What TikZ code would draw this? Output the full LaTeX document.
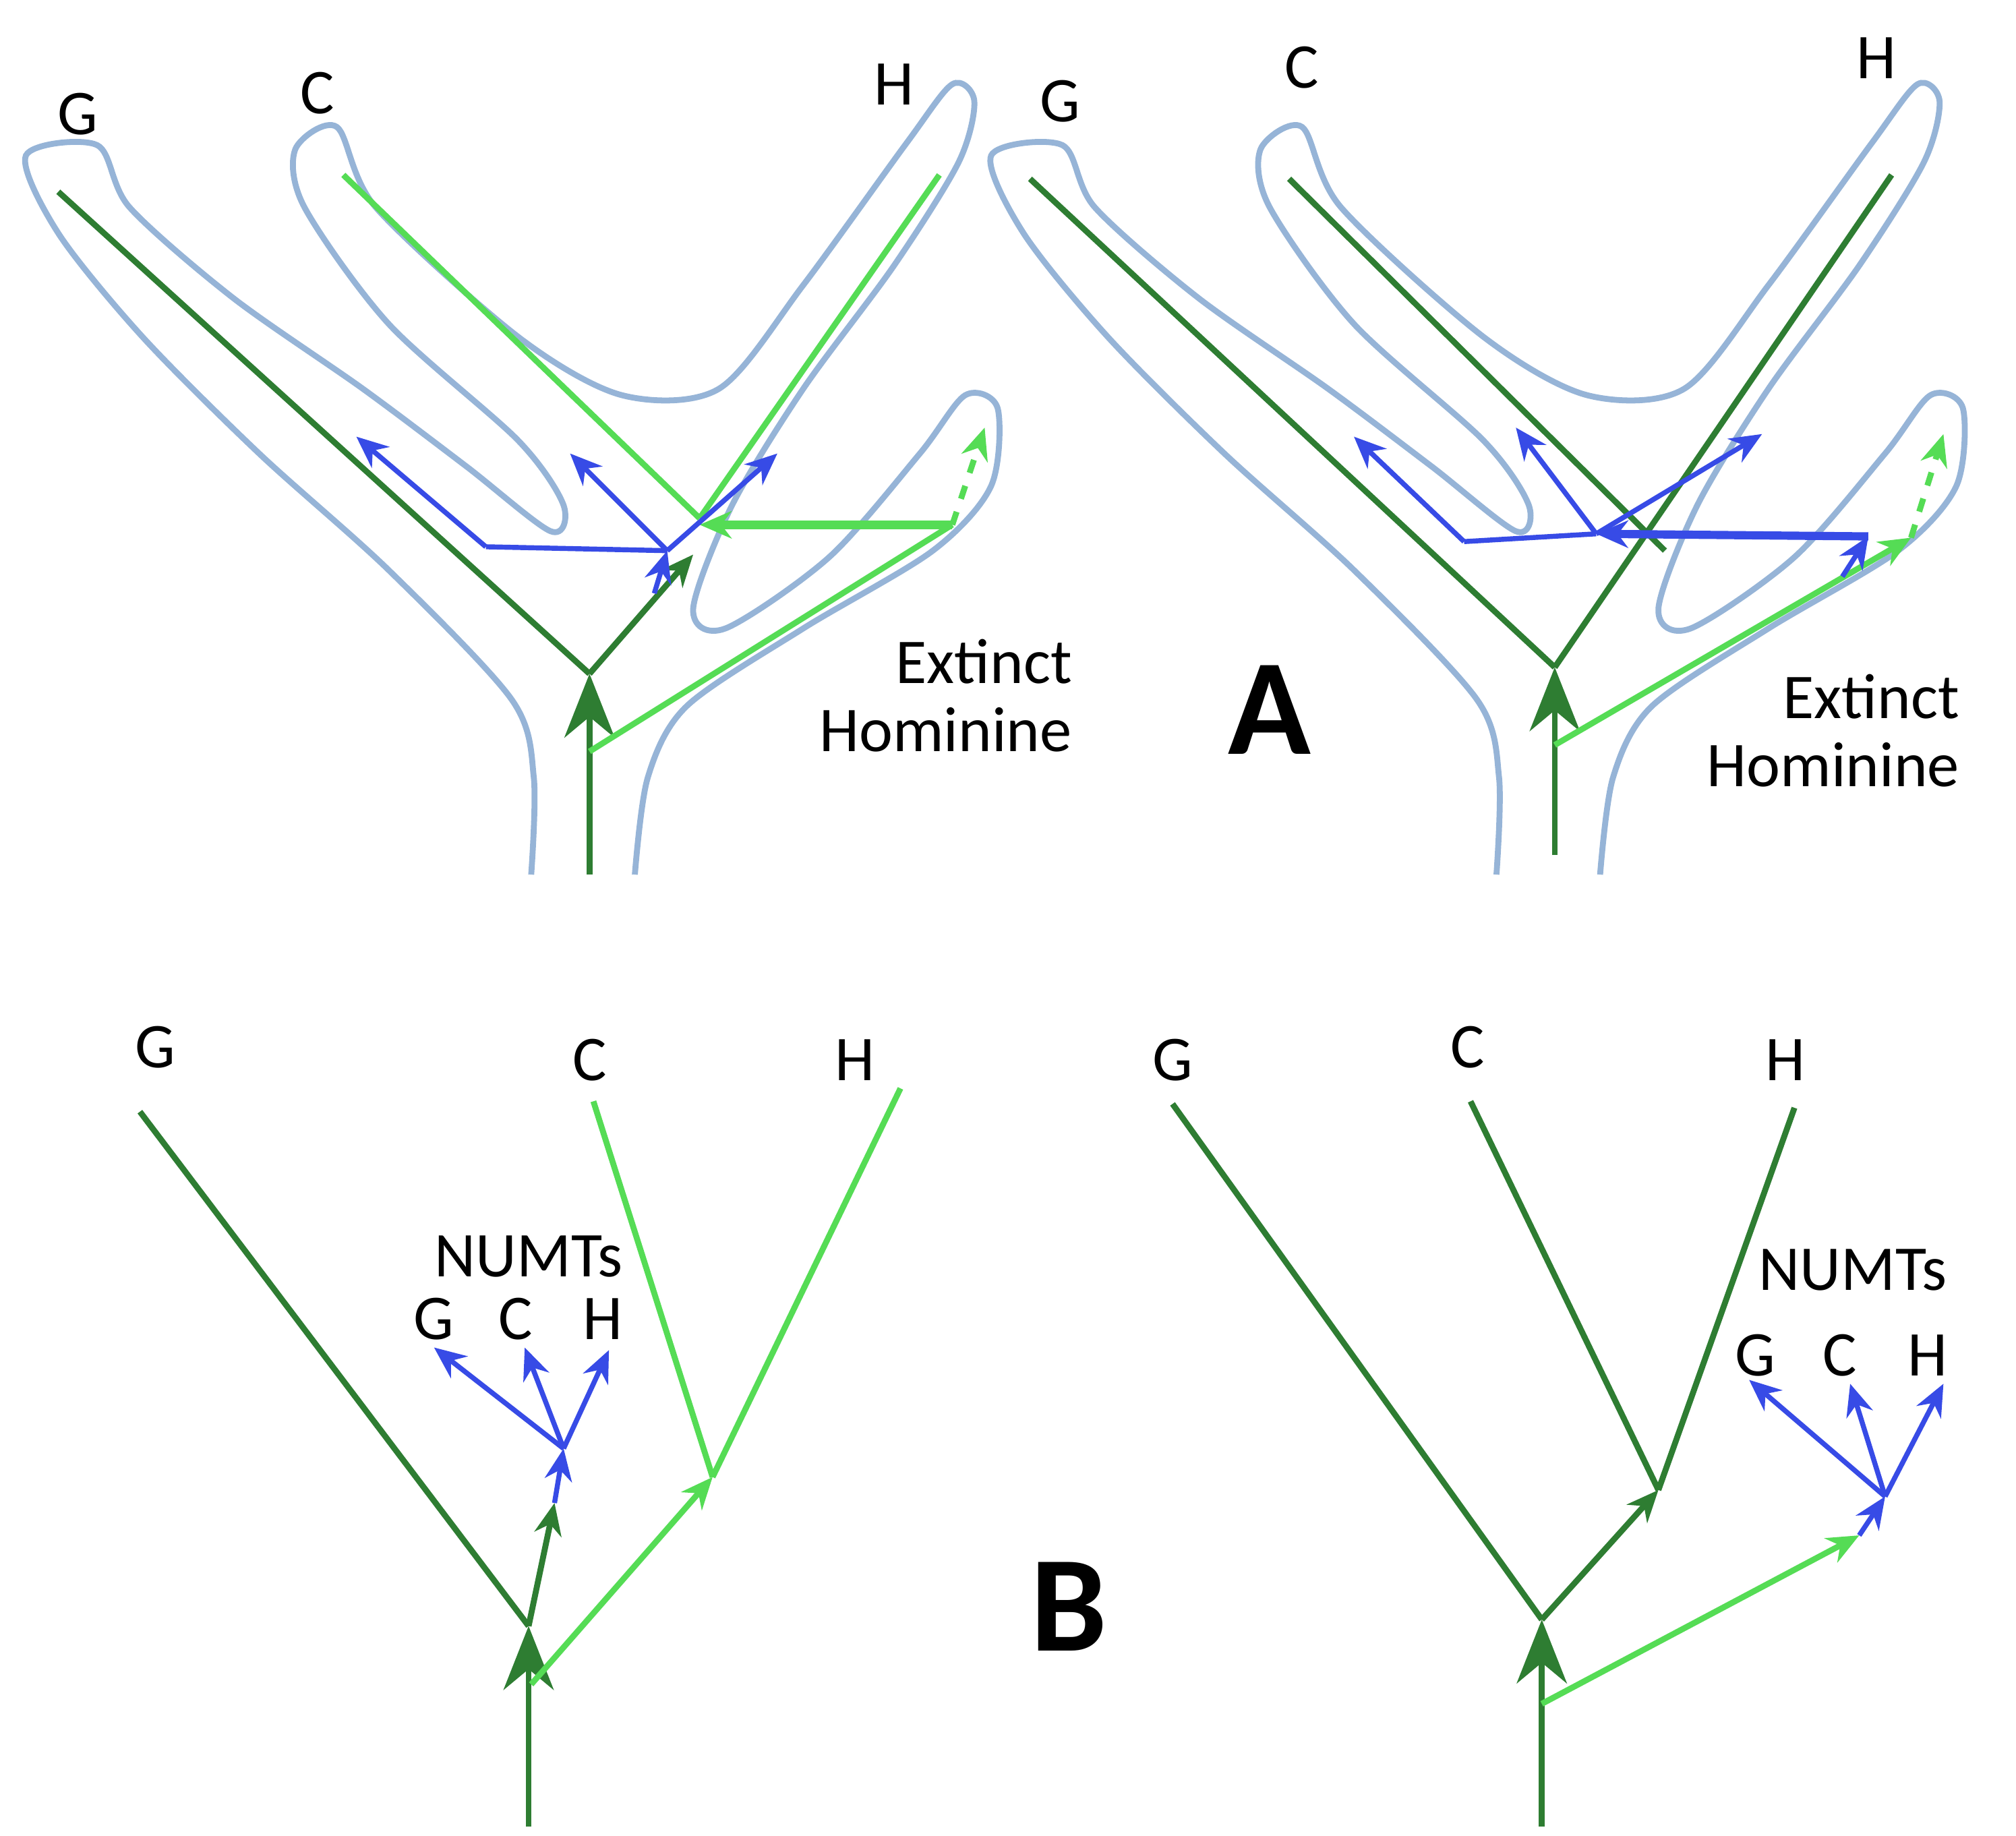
\documentclass[tikz,border=0pt]{standalone}
\usepackage{fontspec}
\setmainfont{Carlito}
\usetikzlibrary{arrows.meta}
\definecolor{dg}{RGB}{46,125,50}
\definecolor{lg}{RGB}{85,220,85}
\definecolor{bl}{RGB}{55,75,230}
\definecolor{ol}{RGB}{150,180,215}
\begin{document}
\begin{tikzpicture}[x=0.01cm,y=-0.01cm,
 dk/.style={draw=dg,line width=1.3pt},
 lt/.style={draw=lg,line width=1.3pt},
 bu/.style={draw=bl,line width=1.1pt},
 ar/.style={-{Stealth[length=7pt,width=6pt]}},
 big/.style={-{Stealth[length=14pt,width=11pt]}},
 outl/.style={draw=ol,line width=1.3pt},
 lab/.style={font=\fontsize{14}{15}\selectfont},
 bold/.style={font=\fontsize{30}{30}\selectfont\bfseries}]
\useasboundingbox (0,0) rectangle (1556,1417);
% ---------- Panel A outlines ----------
\foreach \s in {0,745}{
\begin{scope}[xshift=\s*0.01cm]
\draw[outl] plot[smooth,tension=0.5] coordinates{(410,675) (412,600) (395,540) (300,440) (200,350) (110,260) (45,180) (20,120) (75,112) (100,160) (180,230) (280,300) (360,360) (425,410) (435,390) (400,340) (300,250) (235,160) (228,115) (260,98) (290,160) (400,260) (480,305) (555,300) (620,220) (700,110) (735,65) (752,78) (740,125) (690,205) (620,300) (565,390) (535,470) (560,485) (640,430) (710,350) (745,305) (770,315) (765,375) (720,425) (620,485) (530,545) (500,600) (490,675)};
\end{scope}}
% ---------- Panel A left ----------
\coordinate (a1) at (455,675); \coordinate (a2) at (455,520);
\coordinate (ag) at (45,148); \coordinate (aj) at (535,428);
\coordinate (ac1) at (265,135); \coordinate (ac2) at (540,400);
\coordinate (ah) at (725,135); \coordinate (ax1) at (455,580);
\coordinate (ax2) at (735,405); \coordinate (ax3) at (760,330);
\coordinate (ab) at (515,425); \coordinate (ab0) at (505,458);
\coordinate (abl) at (375,422); \coordinate (abg) at (275,337);
\coordinate (abc) at (440,350); \coordinate (abh) at (600,350);
\draw[dk,big] (a1) -- (a2);
\draw[dk] (a2) -- (ag);
\draw[dk,ar] (a2) -- (aj);
\draw[lt] (ac1) -- (ac2);
\draw[lt] (ac2) -- (ah);
\draw[lt] (ax1) -- (ax2);
\draw[lt,ar,dashed] (ax2) -- (ax3);
\draw[lt,ar,line width=2pt] (ax2) -- (ac2|-ax2);
\draw[bu,ar] (ab0) -- (ab);
\draw[bu] (ab) -- (abl);
\draw[bu,ar] (abl) -- (abg);
\draw[bu,ar] (ab) -- (abc);
\draw[bu,ar] (ab) -- (abh);
\node[lab] (lag) at (60,88) {G};
\node[lab] (lac) at (245,72) {C};
\node[lab] (lah) at (690,65) {H};
\node[lab,align=right] (lae) at (730,537) {Extinct\\Hominine};
\node[bold] (lA) at (980,548) {A};
% ---------- Panel A right ----------
\coordinate (b1) at (1200,660); \coordinate (b2) at (1200,515);
\coordinate (bg) at (795,138); \coordinate (bh) at (1460,135);
\coordinate (bc1) at (995,138); \coordinate (bc2) at (1285,425);
\coordinate (bx1) at (1200,575); \coordinate (bx2) at (1475,415);
\coordinate (bx3) at (1500,335);
\coordinate (bbr) at (1442,414); \coordinate (bbr0) at (1422,445);
\coordinate (bbj) at (1232,412); \coordinate (bbl) at (1130,418);
\coordinate (bbg) at (1045,337); \coordinate (bbc) at (1170,330);
\coordinate (bbh) at (1360,335);
\draw[dk,big] (b1) -- (b2);
\draw[dk] (b2) -- (bg);
\draw[dk] (b2) -- (bh);
\draw[dk] (bc1) -- (bc2);
\draw[lt,ar] (bx1) -- (bx2);
\draw[lt,ar,dashed] (bx2) -- (bx3);
\draw[bu,ar] (bbr0) -- (bbr);
\draw[bu,ar,line width=1.8pt] (bbr) -- (bbj);
\draw[bu] (bbj) -- (bbl);
\draw[bu,ar] (bbl) -- (bbg);
\draw[bu,ar] (bbj) -- (bbc);
\draw[bu,ar] (bbj) -- (bbh);
\node[lab] (lbg) at (818,78) {G};
\node[lab] (lbc) at (1005,52) {C};
\node[lab] (lbh) at (1448,45) {H};
\node[lab,align=right] (lbe) at (1415,564) {Extinct\\Hominine};
% ---------- Panel B left ----------
\coordinate (c1) at (408,1410); \coordinate (c2) at (408,1255);
\coordinate (cg) at (108,858); \coordinate (cn) at (428,1160);
\coordinate (cb) at (435,1118); \coordinate (cl1) at (410,1300);
\coordinate (cl2) at (550,1140); \coordinate (cc) at (458,850);
\coordinate (ch) at (695,840);
\coordinate (cbg) at (335,1040); \coordinate (cbc) at (405,1040); \coordinate (cbh) at (470,1042);
\draw[dk,big] (c1) -- (c2);
\draw[dk] (c2) -- (cg);
\draw[dk,ar] (c2) -- (cn);
\draw[bu,ar] (cn) -- (cb);
\draw[bu,ar] (cb) -- (cbg);
\draw[bu,ar] (cb) -- (cbc);
\draw[bu,ar] (cb) -- (cbh);
\draw[lt,ar] (cl1) -- (cl2);
\draw[lt] (cl2) -- (cc);
\draw[lt] (cl2) -- (ch);
\node[lab] (lcg) at (120,808) {G};
\node[lab] (lcc) at (455,818) {C};
\node[lab] (lch) at (660,818) {H};
\node[lab] (lcn) at (408,970) {NUMTs};
\node[lab] (lcg2) at (335,1018) {G};
\node[lab] (lcc2) at (398,1018) {C};
\node[lab] (lch2) at (465,1018) {H};
\node[bold] (lB) at (825,1240) {B};
% ---------- Panel B right ----------
\coordinate (d1) at (1190,1410); \coordinate (d2) at (1190,1250);
\coordinate (dg) at (905,852); \coordinate (dj) at (1280,1150);
\coordinate (dc) at (1135,850); \coordinate (dh) at (1385,855);
\coordinate (dl1) at (1190,1315); \coordinate (dl2) at (1435,1185);
\coordinate (db) at (1455,1155);
\coordinate (dbg) at (1350,1065); \coordinate (dbc) at (1428,1068); \coordinate (dbh) at (1500,1068);
\draw[dk,big] (d1) -- (d2);
\draw[dk] (d2) -- (dg);
\draw[dk,ar] (d2) -- (dj);
\draw[dk] (dj) -- (dc);
\draw[dk] (dj) -- (dh);
\draw[lt,ar] (dl1) -- (dl2);
\draw[bu,ar] (dl2) -- (db);
\draw[bu,ar] (db) -- (dbg);
\draw[bu,ar] (db) -- (dbc);
\draw[bu,ar] (db) -- (dbh);
\node[lab] (ldg) at (905,818) {G};
\node[lab] (ldc) at (1133,808) {C};
\node[lab] (ldh) at (1378,818) {H};
\node[lab] (ldn) at (1430,980) {NUMTs};
\node[lab] (ldg2) at (1355,1046) {G};
\node[lab] (ldc2) at (1420,1046) {C};
\node[lab] (ldh2) at (1488,1046) {H};
\end{tikzpicture}
\end{document}
